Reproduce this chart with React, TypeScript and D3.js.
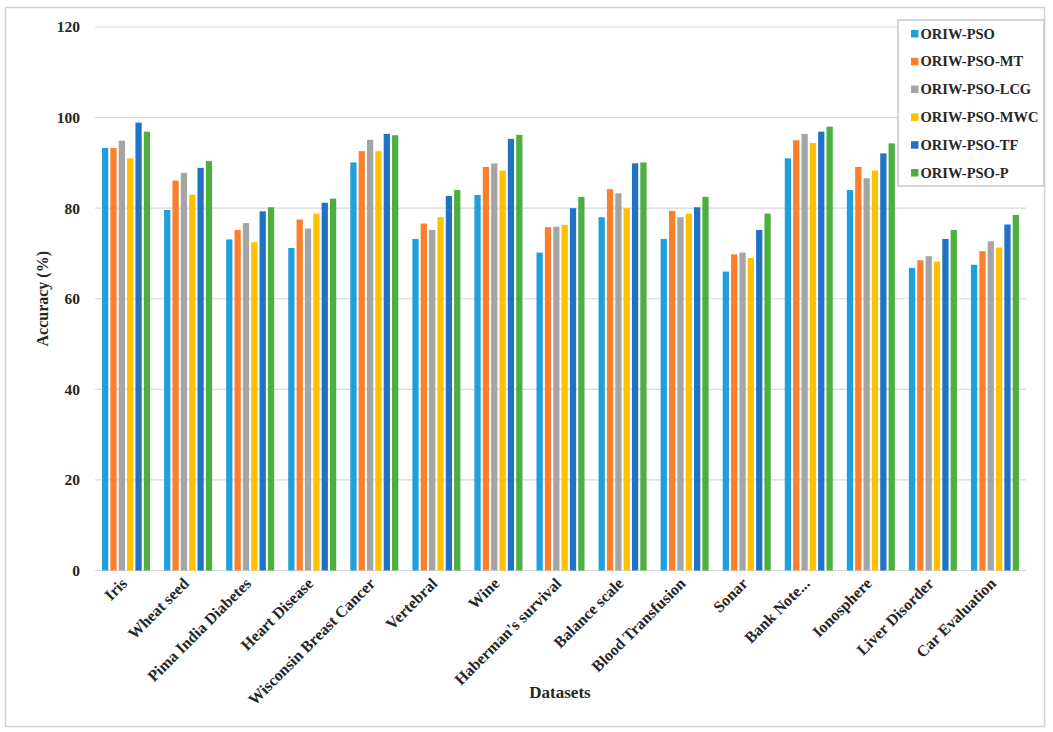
import React from "react";
import * as d3 from "d3";

const datasets = [
  "Iris",
  "Wheat seed",
  "Pima India Diabetes",
  "Heart Disease",
  "Wisconsin Breast Cancer",
  "Vertebral",
  "Wine",
  "Haberman's survival",
  "Balance scale",
  "Blood Transfusion",
  "Sonar",
  "Bank Note...",
  "Ionosphere",
  "Liver Disorder",
  "Car Evaluation",
];

const methods = [
  "ORIW-PSO",
  "ORIW-PSO-MT",
  "ORIW-PSO-LCG",
  "ORIW-PSO-MWC",
  "ORIW-PSO-TF",
  "ORIW-PSO-P",
];

const oriwPso = [93.3, 79.6, 73.1, 71.2, 90.1, 73.2, 82.9, 70.2, 78.0, 73.2, 66.0, 91.0, 84.0, 66.8, 67.5];
const oriwPsoMt = [93.3, 86.1, 75.2, 77.5, 92.6, 76.6, 89.1, 75.8, 84.2, 79.4, 69.8, 95.0, 89.1, 68.5, 70.5];
const oriwPsoLcg = [94.9, 87.8, 76.7, 75.5, 95.1, 75.2, 89.9, 75.9, 83.3, 78.0, 70.2, 96.4, 86.6, 69.4, 72.7];
const oriwPsoMwc = [91.0, 83.0, 72.5, 78.8, 92.6, 78.0, 88.3, 76.3, 80.0, 78.8, 69.0, 94.4, 88.3, 68.2, 71.3];
const oriwPsoTf = [98.9, 88.9, 79.3, 81.2, 96.4, 82.7, 95.3, 80.0, 89.9, 80.2, 75.2, 96.9, 92.1, 73.2, 76.4];
const oriwPsoP = [96.9, 90.4, 80.2, 82.1, 96.1, 84.0, 96.2, 82.5, 90.1, 82.5, 78.8, 98.0, 94.3, 75.2, 78.5];

const series = [oriwPso, oriwPsoMt, oriwPsoLcg, oriwPsoMwc, oriwPsoTf, oriwPsoP];
const colors = ["#1f9fdb", "#fd7f2c", "#a5a5a5", "#ffc000", "#1f72c6", "#4caf3f"];
const yTicks = [0, 20, 40, 60, 80, 100, 120];

const W = 1053;
const H = 732;
const font = "'Liberation Serif', 'Times New Roman', serif";

export default function App() {
  const left = 95;
  const right = 1026;
  const top = 27;
  const bottom = 570.5;

  const x = d3.scaleBand<string>().domain(datasets).range([left, right]).paddingInner(0).paddingOuter(0);
  const inner = d3
    .scaleBand<string>()
    .domain(methods)
    .range([x.bandwidth() / 2 - 24, x.bandwidth() / 2 + 24])
    .paddingInner(0.25);
  const y = d3.scaleLinear().domain([0, 120]).range([bottom, top]);

  return (
    <svg
      width={W}
      height={H}
      style={{ position: "absolute", left: 0, top: 0, background: "#fff" }}
      fontFamily={font}
    >
      <rect x={5.5} y={7.5} width={1039} height={719} fill="#fff" stroke="#d4d4d4" strokeWidth={1.5} />

      {yTicks.map((t) => (
        <g key={t}>
          <line x1={left} x2={right} y1={y(t)} y2={y(t)} stroke="#d9d9d9" strokeWidth={1.2} />
          <text
            x={80}
            y={y(t)}
            dy="0.35em"
            textAnchor="end"
            fontSize={15.5}
            fontWeight="bold"
            fill="#262626"
          >
            {t}
          </text>
        </g>
      ))}

      {datasets.map((d, i) => (
        <g key={d} transform={`translate(${x(d)},0)`}>
          {series.map((s, j) => (
            <rect
              key={methods[j]}
              x={inner(methods[j])}
              y={y(s[i])}
              width={inner.bandwidth()}
              height={bottom - y(s[i])}
              fill={colors[j]}
            />
          ))}
        </g>
      ))}

      {datasets.map((d) => {
        const cx = (x(d) ?? 0) + x.bandwidth() / 2 + 2;
        return (
          <text
            key={d}
            transform={`translate(${cx},${bottom + 14}) rotate(-45)`}
            textAnchor="end"
            fontSize={16}
            fontWeight="bold"
            fill="#262626"
          >
            {d}
          </text>
        );
      })}

      <text
        transform={`translate(48,${(top + bottom) / 2}) rotate(-90)`}
        textAnchor="middle"
        fontSize={16}
        fontWeight="bold"
        fill="#262626"
      >
        Accuracy (%)
      </text>
      <text x={560} y={698} textAnchor="middle" fontSize={17} fontWeight="bold" fill="#262626">
        Datasets
      </text>

      <rect x={898} y={20} width={146} height={166} fill="#fff" stroke="#c8c8c8" strokeWidth={1.5} />
      {methods.map((m, j) => (
        <g key={m} transform={`translate(911,${33.5 + j * 27.8})`}>
          <rect x={0} y={-3.5} width={7.5} height={7.5} fill={colors[j]} />
          <text x={9.5} dy="0.35em" fontSize={14.5} fontWeight="bold" fill="#262626">
            {m}
          </text>
        </g>
      ))}
    </svg>
  );
}
